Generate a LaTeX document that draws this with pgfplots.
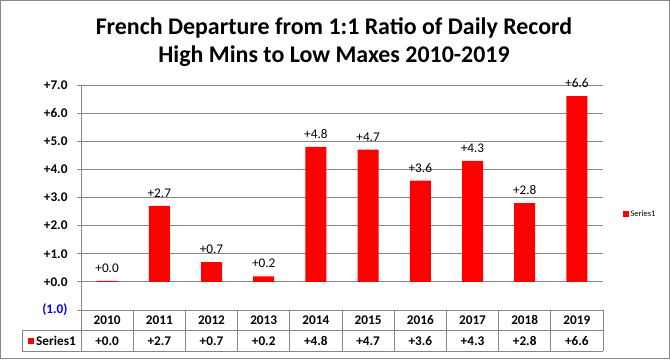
\documentclass[border=0pt]{standalone}
\usepackage{pgfplots}
\pgfplotsset{compat=1.18}
\usepackage{fontspec}
\setmainfont{Carlito}
\definecolor{gridgray}{HTML}{868686}
\definecolor{barred}{HTML}{FF0000}
\definecolor{negblue}{HTML}{0000FF}
\begin{document}
\begin{tikzpicture}[x=1bp,y=1bp]
% outer frame
\draw[gridgray, line width=1bp] (0.5,0.5) rectangle (669.5,358.5);
% title
\node[font=\fontsize{24}{28}\selectfont\bfseries, align=center] at (334,317) {French Departure from 1:1 Ratio of Daily Record\\High Mins to Low Maxes 2010-2019};
\begin{axis}[
  at={(81bp,49bp)}, anchor=south west,
  scale only axis, width=522bp, height=225bp,
  xmin=-0.5, xmax=9.5, ymin=-1, ymax=7,
  /pgf/number format/assume math mode=true,
  axis lines=left, axis line style={-, gridgray, line width=0.8bp},
  ymajorgrids, grid style={gridgray, line width=0.8bp},
  ytick={-1,0,...,7},
  yticklabels={\textcolor{negblue}{(1.0)},+0.0,+1.0,+2.0,+3.0,+4.0,+5.0,+6.0,+7.0},
  ytick pos=left, tick align=outside, major tick length=4bp,
  ytick style={gridgray, line width=0.8bp},
  yticklabel style={font=\fontsize{13.3}{16}\selectfont\bfseries, xshift=-6bp},
  xtick={0,...,9},
  xtick style={draw=none},
  xticklabels={{2010\\+0.0},{2011\\+2.7},{2012\\+0.7},{2013\\+0.2},{2014\\+4.8},{2015\\+4.7},{2016\\+3.6},{2017\\+4.3},{2018\\+2.8},{2019\\+6.6}},
  xticklabel style={font=\fontsize{13.3}{21}\selectfont\bfseries, align=center, inner sep=0pt, anchor=north, yshift=-1.5bp},
  ybar, bar width=21bp,
  nodes near coords={+\pgfmathprintnumber[fixed,fixed zerofill,precision=1,assume math mode=true]{\pgfplotspointmeta}},
  nodes near coords style={font=\fontsize{13.3}{16}\selectfont, text=black, yshift=5bp},
  clip=false,
  legend style={at={(1.038,0.427)}, anchor=west, draw=none, fill=none, font=\fontsize{8.5}{10}\selectfont, inner sep=0pt},
  legend image code/.code={\fill[barred] (0bp,-2.8bp) rectangle (5.5bp,2.8bp);},
]
\addplot[fill=barred, draw=none] coordinates {
 (0,0.04) (1,2.7) (2,0.7) (3,0.2) (4,4.8) (5,4.7) (6,3.6) (7,4.3) (8,2.8) (9,6.6)};
\addlegendentry{Series1}
\end{axis}
% data table grid
\begin{scope}[gridgray, line width=1bp]
\draw (22,29) -- (603,29);
\draw (22,8) -- (603,8);
\draw (22,29) -- (22,8);
\foreach \k in {0,...,10} { \draw ({81+52.2*\k},49) -- ({81+52.2*\k},8); }
\end{scope}
\fill[barred] (28,15.5) rectangle (34,21.5);
\node[anchor=west, font=\fontsize{13.3}{16}\selectfont\bfseries, inner sep=0pt] at (36,18) {Series1};
\end{tikzpicture}
\end{document}
